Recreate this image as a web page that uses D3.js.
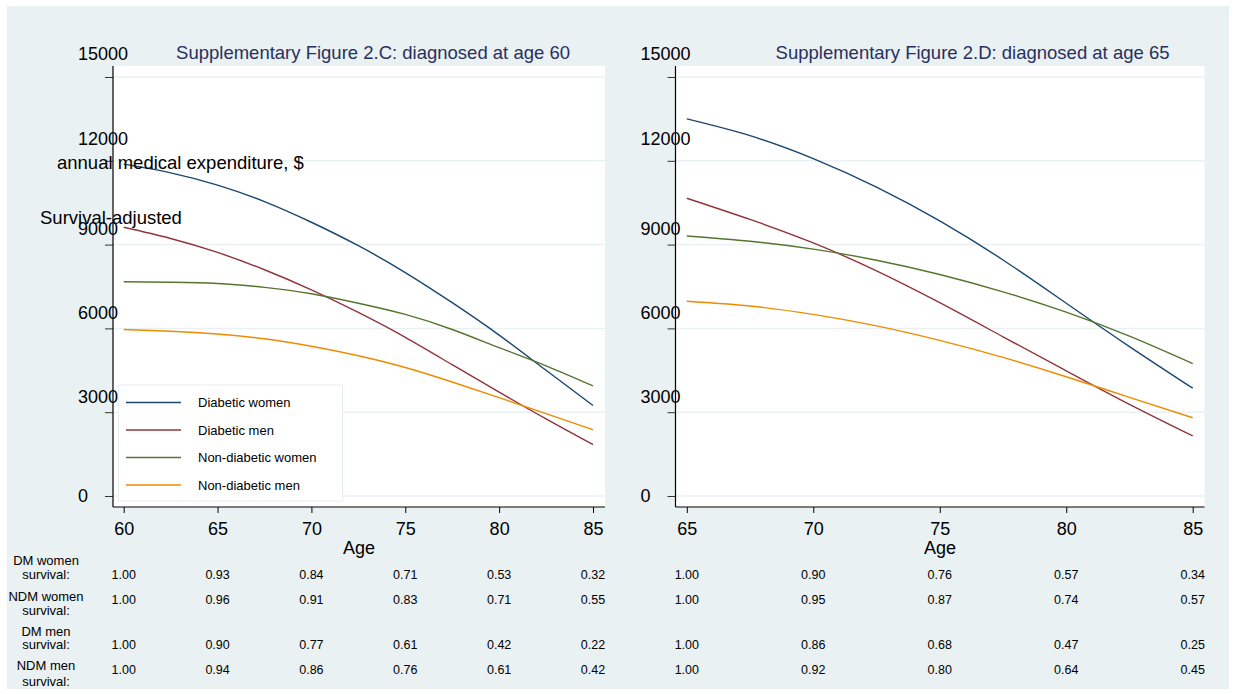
<!DOCTYPE html>
<html>
<head>
<meta charset="utf-8">
<script src="https://cdn.jsdelivr.net/npm/d3@7"></script>
<style>
  html, body { margin: 0; padding: 0; background: #ffffff; }
  svg { display: block; font-family: "Liberation Sans", Arial, Helvetica, sans-serif; }
</style>
</head>
<body>
<svg id="chart" width="1236" height="694"></svg>
<script>
// ---- Series (survival-adjusted annual medical expenditure, $) ----
const agesC = [60, 62.5, 65, 67.5, 70, 72.5, 75, 77.5, 80, 82.5, 85];
const dmWomenC  = [11880, 11570, 11130, 10540, 9800, 8960, 8000, 6920, 5760, 4500, 3240];
const dmMenC    = [9620, 9220, 8720, 8100, 7380, 6570, 5680, 4700, 3720, 2760, 1840];
const ndmWomenC = [7670, 7650, 7610, 7470, 7240, 6900, 6500, 5960, 5310, 4660, 3940];
const ndmMenC   = [5960, 5900, 5800, 5630, 5360, 5020, 4600, 4080, 3520, 2950, 2370];

const agesD = [65, 67.5, 70, 72.5, 75, 77.5, 80, 82.5, 85];
const dmWomenD  = [13500, 12900, 12080, 11060, 9850, 8450, 6900, 5350, 3860];
const dmMenD    = [10660, 9900, 9060, 8060, 6920, 5700, 4480, 3280, 2150];
const ndmWomenD = [9310, 9120, 8840, 8440, 7930, 7310, 6580, 5720, 4740];
const ndmMenD   = [6970, 6800, 6500, 6090, 5570, 4960, 4270, 3530, 2800];

const seriesNames = ["Diabetic women", "Diabetic men", "Non-diabetic women", "Non-diabetic men"];
const seriesColors = ["#1a476f", "#90353b", "#55752f", "#f08a00"];

// ---- Axis ticks ----
const yTicks = [0, 3000, 6000, 9000, 12000, 15000];
const xTicksC = [60, 65, 70, 75, 80, 85];
const xTicksD = [65, 70, 75, 80, 85];

// ---- Survival table shown under each panel ----
const survivalRowLabels = [["DM women", "survival:"], ["NDM women", "survival:"], ["DM men", "survival:"], ["NDM men", "survival:"]];
const survC = [
  [1.00, 0.93, 0.84, 0.71, 0.53, 0.32],
  [1.00, 0.96, 0.91, 0.83, 0.71, 0.55],
  [1.00, 0.90, 0.77, 0.61, 0.42, 0.22],
  [1.00, 0.94, 0.86, 0.76, 0.61, 0.42]
];
const survD = [
  [1.00, 0.90, 0.76, 0.57, 0.34],
  [1.00, 0.95, 0.87, 0.74, 0.57],
  [1.00, 0.86, 0.68, 0.47, 0.25],
  [1.00, 0.92, 0.80, 0.64, 0.45]
];

const titles = ["Supplementary Figure 2.C: diagnosed at age 60", "Supplementary Figure 2.D: diagnosed at age 65"];

// ---- Layout ----
const svg = d3.select("#chart");
const plotTop = 66, plotBottom = 507;
const y = d3.scaleLinear().domain([0, 15000]).range([496, 77]);

svg.append("rect").attr("x", 7).attr("y", 6).attr("width", 1222).attr("height", 683).attr("fill", "#eaf1f3");

const panels = [
  { left: 113, right: 605, domain: [60, 85], pad: [10.7, 12], ages: agesC,
    series: [dmWomenC, dmMenC, ndmWomenC, ndmMenC], ticks: xTicksC, surv: survC, title: titles[0],
    legend: true, rowLabels: true },
  { left: 675.5, right: 1204.5, domain: [65, 85], pad: [11.3, 11.8], ages: agesD,
    series: [dmWomenD, dmMenD, ndmWomenD, ndmMenD], ticks: xTicksD, surv: survD, title: titles[1],
    legend: false, rowLabels: false }
];

// vertical nudges applied to y tick labels (0 ... 15000)
const yLabelNudge = [-1, -16, -16, -17, -23, -24];
const valueRowY = [578.5, 604, 648.5, 673.5];
const rowLabelY = [[565, 578.5], [600.5, 615], [635.5, 648.5], [669.5, 686]];

panels.forEach(p => {
  const g = svg.append("g");
  const x = d3.scaleLinear().domain(p.domain).range([p.left + p.pad[0], p.right - p.pad[1]]);

  // plot region
  g.append("rect").attr("x", p.left).attr("y", plotTop)
    .attr("width", p.right - p.left).attr("height", plotBottom - plotTop).attr("fill", "#ffffff");

  // horizontal grid
  g.append("g").selectAll("line").data(yTicks).join("line")
    .attr("x1", p.left).attr("x2", p.right)
    .attr("y1", d => y(d)).attr("y2", d => y(d))
    .attr("stroke", "#eaf1f3").attr("stroke-width", 1.5);

  // title
  g.append("text").attr("x", p.right - 35).attr("y", 58.5)
    .attr("text-anchor", "end").attr("fill", "#27305e").attr("font-size", 18.5)
    .text(p.title);

  // y axis
  const yAxis = g.append("g").attr("transform", `translate(${p.left},0)`)
    .call(d3.axisLeft(y).tickValues(yTicks).tickSize(8).tickFormat(d3.format("d")));
  yAxis.select(".domain").remove();
  yAxis.selectAll(".tick line").attr("stroke", "#333");
  yAxis.selectAll(".tick text")
    .attr("text-anchor", "start").attr("x", -35)
    .attr("dy", (d, i) => `${yLabelNudge[i] + 6.5}px`)
    .attr("font-size", 18).attr("font-family", null).attr("fill", "#000");
  g.append("line").attr("x1", p.left).attr("x2", p.left).attr("y1", plotTop).attr("y2", plotBottom)
    .attr("stroke", "#000").attr("stroke-width", 1.2);

  // x axis
  const xAxis = g.append("g").attr("transform", `translate(0,${plotBottom})`)
    .call(d3.axisBottom(x).tickValues(p.ticks).tickSize(6).tickFormat(d3.format("d")));
  xAxis.select(".domain").remove();
  xAxis.selectAll(".tick line").attr("stroke", "#000");
  xAxis.selectAll(".tick text").attr("y", 15.5).attr("font-size", 18)
    .attr("font-family", null).attr("fill", "#000");
  g.append("line").attr("x1", p.left).attr("x2", p.right).attr("y1", plotBottom).attr("y2", plotBottom)
    .attr("stroke", "#000").attr("stroke-width", 1.2);

  g.append("text").attr("x", (p.left + p.right) / 2).attr("y", 553.5)
    .attr("text-anchor", "middle").attr("font-size", 18).text("Age");

  // legend (drawn beneath the curves)
  if (p.legend) {
    const lg = g.append("g");
    lg.append("rect").attr("x", 118.5).attr("y", 385).attr("width", 224).attr("height", 116)
      .attr("fill", "#ffffff").attr("stroke", "#e6eef0").attr("stroke-width", 1);
    seriesNames.forEach((name, i) => {
      const cy = 402.5 + i * 27.5;
      lg.append("line").attr("x1", 126).attr("x2", 181).attr("y1", cy).attr("y2", cy)
        .attr("stroke", seriesColors[i]).attr("stroke-width", 1.5);
      lg.append("text").attr("x", 198).attr("y", cy + 4.5).attr("font-size", 13).text(name);
    });
  }

  // curves
  const line = d3.line().x((d, i) => x(p.ages[i])).y(d => y(d)).curve(d3.curveNatural);
  g.append("g").selectAll("path").data(p.series).join("path")
    .attr("d", line).attr("fill", "none")
    .attr("stroke", (d, i) => seriesColors[i]).attr("stroke-width", 1.4);

  // survival table
  p.surv.forEach((row, r) => {
    g.append("g").selectAll("text").data(row).join("text")
      .attr("x", (d, i) => x(p.ticks[i])).attr("y", valueRowY[r])
      .attr("text-anchor", "middle").attr("font-size", 12.5)
      .text(d => d.toFixed(2));
  });
  if (p.rowLabels) {
    survivalRowLabels.forEach((lines, r) => {
      lines.forEach((t, k) => {
        g.append("text").attr("x", 46).attr("y", rowLabelY[r][k])
          .attr("text-anchor", "middle").attr("font-size", 13).text(t);
      });
    });
  }
});

// y-axis title of the left panel
svg.append("text").attr("x", 57).attr("y", 169).attr("font-size", 18.5).text("annual medical expenditure, $");
svg.append("text").attr("x", 40).attr("y", 223.5).attr("font-size", 18.5).text("Survival-adjusted");
</script>
</body>
</html>
